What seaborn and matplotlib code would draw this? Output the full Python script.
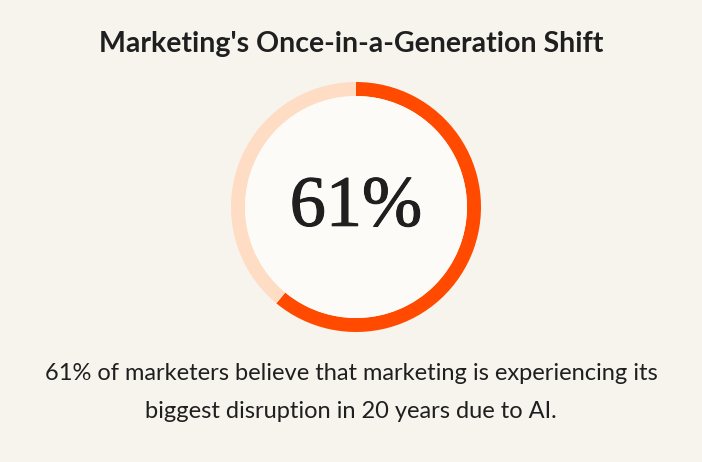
import matplotlib
matplotlib.use("Agg")
import matplotlib.pyplot as plt
import seaborn as sns
from matplotlib.patches import Circle

title = "Marketing's Once-in-a-Generation Shift"
labels = ["Believe", "Other"]
values = [61, 39]
center_label = "61%"
caption = ["61% of marketers believe that marketing is experiencing its",
           "biggest disruption in 20 years due to AI."]

bg = "#F7F4EE"
colors = ["#FF4A00", "#FFDCC4"]
inner = "#FCFBF8"
txt = "#1F1F1F"

sns.set_theme(style="white")
plt.rcParams['font.family'] = ['Lato', 'DejaVu Sans']

W, H = 702, 462
fig = plt.figure(figsize=(W / 100, H / 100), dpi=100, facecolor=bg)

cx, cy, r = 356, 207, 125
ax = fig.add_axes([(cx - r) / W, (H - cy - r) / H, 2 * r / W, 2 * r / H])
ax.set_facecolor(bg)
ring = 14 / r
ax.pie(values, colors=colors, startangle=90, counterclock=False, radius=1.0,
       wedgeprops=dict(width=ring, linewidth=0))
ax.add_patch(Circle((0, 0), 1 - ring, facecolor=inner, edgecolor="none", zorder=3))
ax.text(0, -0.01, center_label, ha="center", va="center", fontsize=52,
        family=["Liberation Serif"], color=txt, zorder=4,
        path_effects=[__import__("matplotlib.patheffects", fromlist=["x"]).withStroke(linewidth=0.8, foreground=txt)])
ax.set_xlim(-1, 1)
ax.set_ylim(-1, 1)
ax.set_aspect("equal")
ax.axis("off")

fig.text(0.5, 1 - 44 / H, title, ha="center", va="center", fontsize=20.5,
         fontweight="bold", color=txt)
fig.text(0.5, 1 - 374 / H, caption[0], ha="center", va="center", fontsize=17, color=txt)
fig.text(0.5, 1 - 412 / H, caption[1], ha="center", va="center", fontsize=17, color=txt)

fig.savefig("out.png", dpi=100, facecolor=bg)
